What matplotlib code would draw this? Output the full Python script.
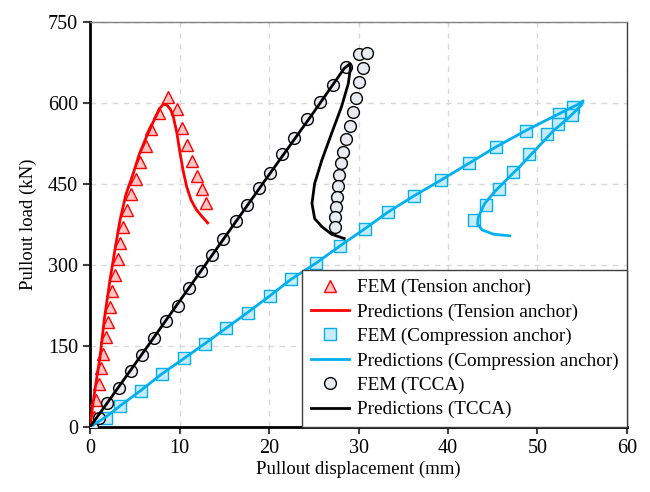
import numpy as np
import matplotlib.pyplot as plt

plt.rcParams['font.family'] = ['Liberation Serif', 'DejaVu Serif']

# FEM (Tension anchor)
ten_fem_x = [0.2, 0.4, 0.63, 1.0, 1.19, 1.49, 1.75, 2.0, 2.23, 2.5, 2.76, 3.09, 3.35, 3.65,
             4.17, 4.58, 5.1, 5.59, 6.2, 6.8, 7.7, 8.75, 9.7, 10.24, 10.8, 11.36, 11.9, 12.5, 12.96]
ten_fem_y = [0, 19, 50, 80, 109, 136, 166, 194, 223, 252, 281, 311, 341, 371,
             401, 431, 460, 491, 521, 551, 581, 612, 588, 554, 522, 493, 465, 440, 415]
# Predictions (Tension anchor)
ten_pre_x = [0, 0.3, 0.6, 1.12, 1.6, 2.23, 2.8, 3.35, 4.0, 4.84, 5.5, 6.3, 7.2, 7.8, 8.2,
             8.6, 9.0, 9.3, 9.7, 10.06, 10.4, 10.8, 11.3, 11.9, 12.5, 13.15]
ten_pre_y = [0, 40, 75, 130, 200, 272, 330, 383, 430, 470, 505, 537, 570, 590, 598,
             596, 588, 575, 545, 507, 475, 445, 420, 402, 390, 378]

# FEM (Compression anchor)
com_fem_x = [0.2, 1.8, 3.35, 5.7, 8.0, 10.5, 12.8, 15.2, 17.6, 20.1, 22.5, 25.3, 27.9, 30.7,
             33.3, 36.2, 39.2, 42.3, 45.4, 48.7, 52.4, 54.0, 53.8, 52.3, 51.1, 49.1, 47.3,
             45.7, 44.2, 42.9]
com_fem_y = [0, 16, 38, 67, 98, 127, 154, 183, 212, 243, 275, 304, 335, 367,
             398, 428, 457, 488, 519, 549, 580, 593, 578, 562, 543, 506, 472,
             440, 411, 383]
# Predictions (Compression anchor)
com_pre_x = [0, 1.8, 3.35, 5.7, 8.0, 10.5, 12.8, 15.2, 17.6, 20.1, 22.5, 25.3, 27.9, 30.7,
             33.3, 36.2, 39.2, 42.3, 45.4, 48.7, 52.4, 54.6, 55.1, 54.9, 53.5, 51.8, 48.0,
             45.4, 44.1, 43.4, 43.3, 43.8, 45.1, 46.9]
com_pre_y = [0, 19, 39, 68, 98, 127, 154, 183, 212, 243, 274, 304, 335, 367,
             398, 428, 457, 488, 519, 549, 580, 598, 604, 596, 573, 549, 482,
             439, 414, 389, 376, 365, 357, 354]

# FEM (TCCA)
tcca_fem_x = [0.2, 1.0, 1.86, 3.27, 4.55, 5.8, 7.2, 8.5, 9.8, 11.1, 12.4, 13.67, 14.9, 16.3,
              17.5, 18.9, 20.1, 21.5, 22.8, 24.3, 25.7, 27.1, 28.6, 30.0, 30.9, 30.5, 30.0,
              29.7, 29.35, 29.0, 28.6, 28.3, 28.0, 27.8, 27.7, 27.6, 27.5, 27.4, 27.4]
tcca_fem_y = [0, 17, 44, 73, 104, 133, 165, 196, 225, 258, 288, 318, 349, 381,
              411, 442, 471, 505, 536, 570, 602, 634, 667, 690, 693, 664, 638,
              610, 584, 557, 533, 510, 488, 467, 446, 426, 408, 389, 371]
# Predictions (TCCA)
tcca_pre_x = [0, 5, 10, 15, 20, 25, 28.4, 29.0, 29.1, 28.86, 28.1, 27.0, 25.9, 25.1, 24.8,
              25.1, 25.9, 27.0, 28.4]
tcca_pre_y = [0, 116, 233, 350, 467, 583, 664, 672, 665, 636, 593, 544, 494, 451, 414,
              386, 371, 357, 349]

fig = plt.figure(figsize=(6.5, 4.92), dpi=100)
ax = fig.add_axes([0.1385, 0.1321, 0.8261, 0.8232])

red = '#ff0000'
blue = '#00b0f0'

ax.plot(ten_fem_x, ten_fem_y, '^', ms=9, mec=red, mfc='#ffc4c4', mew=1.0, ls='none',
        label='FEM (Tension anchor)', zorder=3)
ax.plot(ten_pre_x, ten_pre_y, '-', color=red, lw=2, label='Predictions (Tension anchor)', zorder=4)
ax.plot(com_fem_x, com_fem_y, 's', ms=8.5, mec=blue, mfc='#c7ebf8', mew=1.0, ls='none',
        label='FEM (Compression anchor)', zorder=3)
ax.plot(com_pre_x, com_pre_y, '-', color=blue, lw=2, label='Predictions (Compression anchor)', zorder=4)
ax.plot(tcca_fem_x, tcca_fem_y, 'o', ms=8.5, mec='black', mfc='#e9ebf2', mew=1.0, ls='none',
        label='FEM (TCCA)', zorder=3)
ax.plot(tcca_pre_x, tcca_pre_y, '-', color='black', lw=2, label='Predictions (TCCA)', zorder=4)

ax.set_xlim(0, 60)
ax.set_ylim(0, 750)
ax.set_xticks(np.arange(0, 61, 10))
ax.set_yticks(np.arange(0, 751, 150))
ax.grid(True, ls=(0, (4, 4)), color='#d9d9d9', lw=1)
ax.set_axisbelow(True)

ax.spines['left'].set_linewidth(2)
ax.spines['bottom'].set_linewidth(2)
ax.spines['top'].set_color('#808080')
ax.spines['top'].set_linewidth(1)
ax.spines['right'].set_color('#404040')
ax.spines['right'].set_linewidth(1)
ax.tick_params(direction='out', length=5, width=1.5, labelsize=14.5, color='#404040')

ax.set_xlabel('Pullout displacement (mm)', fontsize=13.5, labelpad=2)
ax.set_ylabel('Pullout load (kN)', fontsize=13.5, labelpad=8)

leg = ax.legend(loc='lower right', fontsize=13.8, borderaxespad=0, fancybox=False,
                framealpha=1, edgecolor='#404040', handlelength=2.0, handletextpad=0.4,
                labelspacing=0.36, borderpad=0.45)
leg.get_frame().set_linewidth(1)

fig.savefig('out.png', dpi=100)
